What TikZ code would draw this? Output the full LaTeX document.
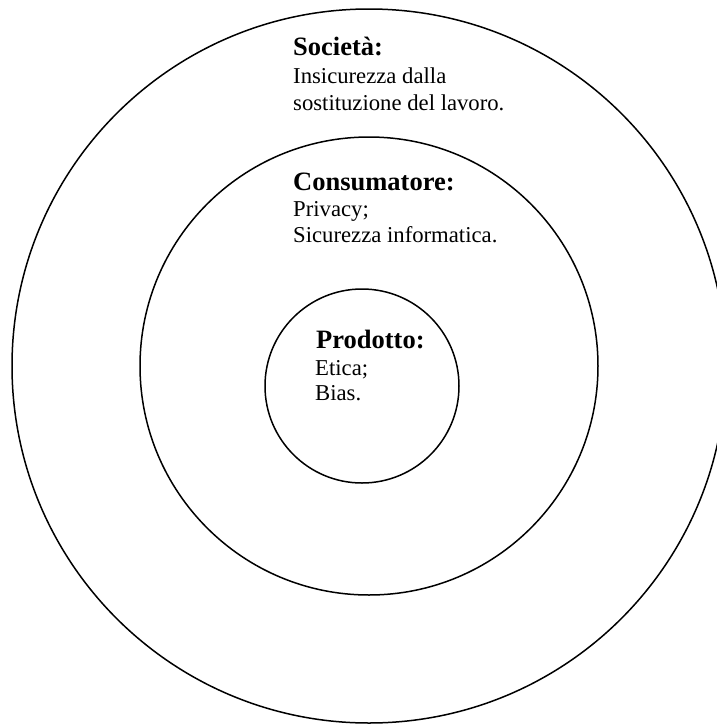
\documentclass[tikz,border=0pt]{standalone}
\usepackage{fontspec}
\setmainfont{Liberation Serif}
\begin{document}
\begin{tikzpicture}[x=1pt,y=-1pt,
  ring/.style={circle,draw=black,line width=1.5pt,inner sep=0pt},
  head/.style={anchor=base west,inner sep=0pt,font=\fontsize{26.5}{30}\selectfont\bfseries},
  body/.style={anchor=base west,inner sep=0pt,font=\fontsize{22.7}{27}\selectfont}]
\useasboundingbox (0,0) rectangle (717,724);
\clip (0,0) rectangle (717,724);
\node[ring,minimum size=714pt] (outer) at (369,366) {};
\node[ring,minimum size=458pt] (middle) at (369,366) {};
\node[ring,minimum size=194pt] (inner) at (362,386) {};
\node[head] (socH) at (293,55) {Società:};
\node[body] (soc1) at (293,83) {Insicurezza dalla};
\node[body] (soc2) at (293,110) {sostituzione del lavoro.};
\node[head] (conH) at (293,190) {Consumatore:};
\node[body] (con1) at (293,216) {Privacy;};
\node[body] (con2) at (293,242) {Sicurezza informatica.};
\node[head] (proH) at (316,348) {Prodotto:};
\node[body] (pro1) at (315,375) {Etica;};
\node[body] (pro2) at (315,400) {Bias.};
\end{tikzpicture}
\end{document}
